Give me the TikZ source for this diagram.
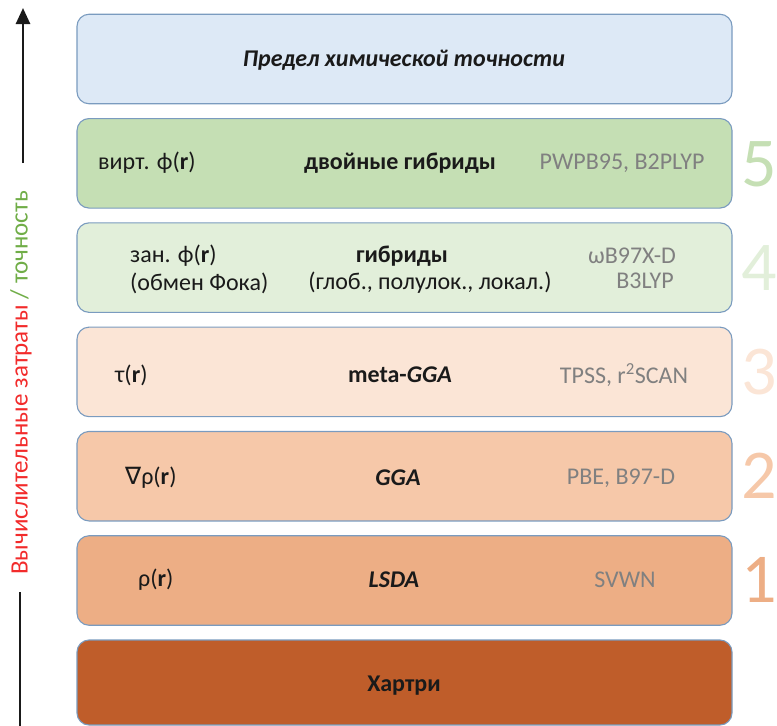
\documentclass[tikz,border=0pt]{standalone}
\usepackage{fontspec}
\setmainfont{Carlito}
\newfontfamily\symfont{DejaVu Sans}
\usetikzlibrary{arrows.meta}
\definecolor{edgeblue}{HTML}{7A9BBF}
\definecolor{limitblue}{HTML}{DDE9F6}
\definecolor{rungfive}{HTML}{C5DFB4}
\definecolor{rungfour}{HTML}{E2EFDA}
\definecolor{rungthree}{HTML}{FBE5D6}
\definecolor{rungtwo}{HTML}{F6C8A9}
\definecolor{rungone}{HTML}{EDAE85}
\definecolor{hartreebrown}{HTML}{BF5D2A}
\definecolor{modelgray}{HTML}{808080}
\definecolor{textdark}{HTML}{1A1A1A}
\definecolor{costred}{HTML}{F22B2B}
\definecolor{accgreen}{HTML}{70AD47}

\begin{document}
\begin{tikzpicture}[x=1pt,y=-1pt,
    level/.style={draw=edgeblue, line width=1.1pt, rounded corners=12pt,
      minimum width=655pt, minimum height=89.5pt, inner sep=0pt},
    txt/.style={inner sep=0pt, text=textdark, font=\fontsize{24}{28}\selectfont},
    model/.style={txt, text=modelgray},
    rung/.style={inner sep=0pt, font=\fontsize{70}{70}\selectfont}]
  \useasboundingbox (0,0) rectangle (777,726);
  % the ladder
  \node (limit) at (404.5,59) [level, fill=limitblue] {};
  \node (lvl5) at (404.5,163.3) [level, fill=rungfive] {};
  \node (lvl4) at (404.5,267.6) [level, fill=rungfour] {};
  \node (lvl3) at (404.5,371.9) [level, fill=rungthree] {};
  \node (lvl2) at (404.5,476.2) [level, fill=rungtwo] {};
  \node (lvl1) at (404.5,580.5) [level, fill=rungone] {};
  \node (hartree) at (404.5,682.5) [level, fill=hartreebrown, minimum height=85pt] {};
  % middle column
  \node (limitname) at (404,60) [txt] {\textbf{\textit{Предел химической точности}}};
  \node (dhname) at (400,163) [txt] {\textbf{двойные гибриды}};
  \node (hybname) at (402,256) [txt] {\textbf{гибриды}};
  \node (hybkind) at (430,283) [txt] {(глоб., полулок., локал.)};
  \node (mgganame) at (400,375) [txt] {\textbf{meta-\textit{GGA}}};
  \node (gganame) at (398,478) [txt] {\textbf{\textit{GGA}}};
  \node (lsdaname) at (394,580) [txt] {\textbf{\textit{LSDA}}};
  \node (hartreename) at (404,686) [txt] {\textbf{Хартри}};
  % left column
  \node (virt) at (98,163) [txt, anchor=west] {вирт. ϕ(\textbf{r})};
  \node (occ) at (130,256) [txt, anchor=west] {зан. ϕ(\textbf{r})};
  \node (fock) at (130,283) [txt, anchor=west] {(обмен Фока)};
  \node (tau) at (115,375) [txt, anchor=west] {τ(\textbf{r})};
  \node (grad) at (125,478) [txt, anchor=west] {{\symfont ∇}ρ(\textbf{r})};
  \node (dens) at (138,580) [txt, anchor=west] {ρ(\textbf{r})};
  % right column
  \node (dhex) at (622,163) [model] {PWPB95, B2PLYP};
  \node (hybexa) at (632,256) [model] {ωB97X-D};
  \node (hybexb) at (645,281) [model] {B3LYP};
  \node (mggaex) at (624,375) [model] {TPSS, r\textsuperscript{2}SCAN};
  \node (ggaex) at (621,478) [model] {PBE, B97-D};
  \node (lsdaex) at (625,580) [model] {SVWN};
  % rung numbers
  \node (n5) at (759,164) [rung, text=rungfive] {5};
  \node (n4) at (759,268) [rung, text=rungfour] {4};
  \node (n3) at (759,372) [rung, text=rungthree] {3};
  \node (n2) at (759,476) [rung, text=rungtwo] {2};
  \node (n1) at (759,580) [rung, text=rungone] {1};
  % axis
  \node (axis) at (21,383) [txt, rotate=90, font=\fontsize{25}{28}\selectfont] {\textcolor{costred}{Вычислительные затраты} \textcolor{accgreen}{/ точность}};
  \coordinate (uptop) at (23,8);
  \coordinate (upbot) at (23,163);
  \coordinate (lowtop) at (20,592);
  \coordinate (lowbot) at (20,726);
  \draw[line width=2.6pt, textdark, -{Triangle[width=14pt,length=16pt]}] (upbot) -- (uptop);
  \draw[line width=2.6pt, textdark] (lowtop) -- (lowbot);
\end{tikzpicture}
\end{document}
